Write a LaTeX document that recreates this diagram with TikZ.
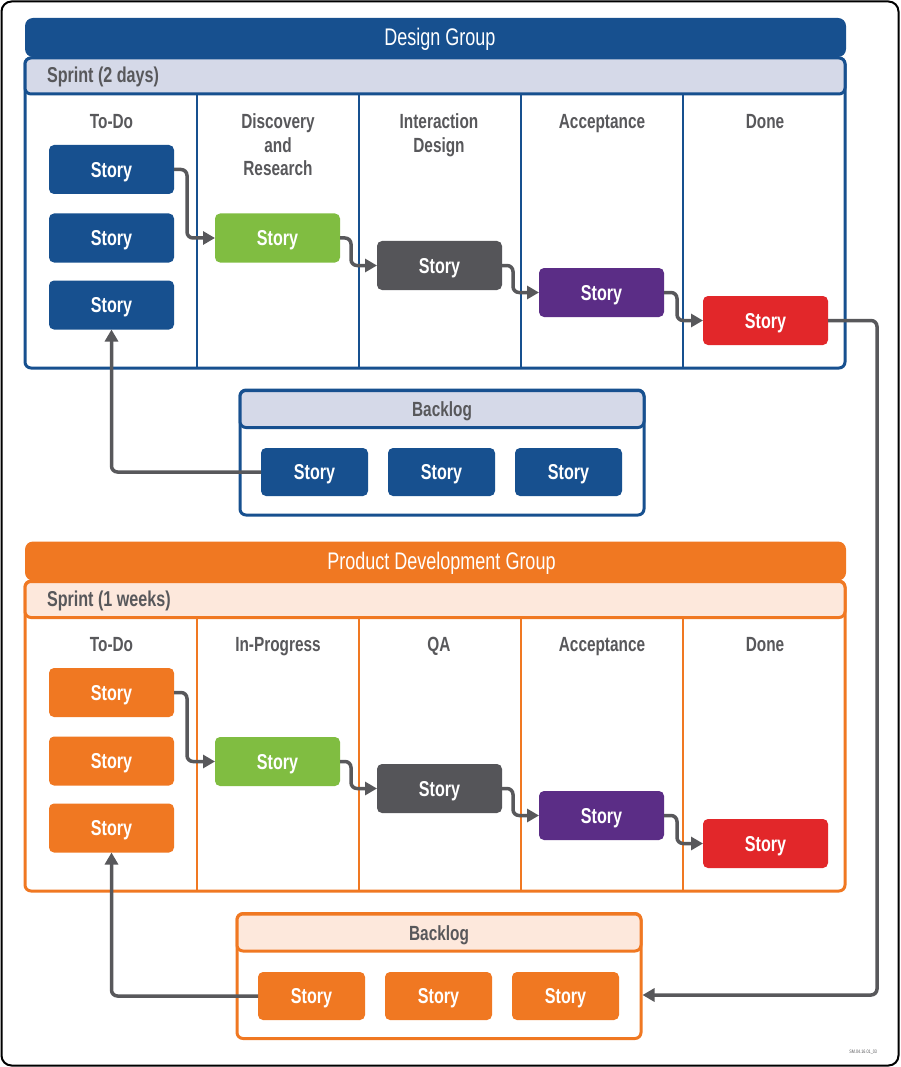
\documentclass[tikz,border=0pt]{standalone}
\usepackage{fontspec}
\setmainfont{Liberation Sans}[FakeStretch=0.75]
\usetikzlibrary{arrows.meta, positioning, calc}
\definecolor{designblue}{HTML}{17508F}
\definecolor{lavender}{HTML}{D5D9E8}
\definecolor{devorange}{HTML}{F07822}
\definecolor{peach}{HTML}{FDE8DC}
\definecolor{storygreen}{HTML}{80BD41}
\definecolor{storygray}{HTML}{555559}
\definecolor{storypurple}{HTML}{5B2D86}
\definecolor{storyred}{HTML}{E2272A}
\definecolor{textgray}{HTML}{58585B}

\begin{document}
\begin{tikzpicture}[
    x=1pt, y=-1pt,
    every node/.style={inner sep=0pt, outer sep=0pt},
    story/.style={rounded corners=5pt, minimum width=125pt, minimum height=49pt, text=white, font=\fontsize{21.5}{25}\selectfont\bfseries, text height=15.5pt, text depth=0pt},
    bstory/.style={story, minimum width=107pt, minimum height=48pt},
    colhead/.style={anchor=north, align=center, text=textgray, font=\fontsize{20.5}{23.5}\selectfont\bfseries},
    grouphead/.style={rounded corners=8pt, minimum width=821pt, minimum height=39pt, text=white, font=\fontsize{24}{28}\selectfont, text height=17pt, text depth=0pt},
    sprintbox/.style={draw, line width=3pt, rounded corners=6pt, minimum width=820pt, minimum height=310pt},
    sprintbar/.style={draw, line width=3pt, rounded corners=6pt, minimum width=820pt, minimum height=36pt},
    sprinttext/.style={anchor=base west, text=textgray, font=\fontsize{21.5}{25}\selectfont\bfseries},
    backlogbox/.style={draw, line width=3pt, rounded corners=6pt, minimum width=404pt, minimum height=125pt},
    backloghead/.style={draw, line width=3pt, rounded corners=6pt, minimum width=404pt, minimum height=37pt, text=textgray, font=\fontsize{20.5}{24}\selectfont\bfseries, text height=15pt, text depth=0pt},
    divider/.style={line width=2pt},
    flow/.style={-{Triangle[length=12pt, width=13pt]}, line width=3.5pt, textgray, rounded corners=6pt}
]
    \useasboundingbox (0,0) rectangle (900,1067);
    \node[draw, line width=2pt, rounded corners=10pt, minimum width=897pt, minimum height=1064pt] (frame) at (450,533.5) {};

    % Design group
    \node[grouphead, fill=designblue] (dhead) at (435.5,37.5) {\hspace{9pt}Design Group};
    \node[sprintbox, draw=designblue, fill=white] (dsprint) at (435,213) {};
    \node[sprintbar, draw=designblue, fill=lavender] (dbar) at (435,76) {};
    \node[sprinttext] (dsprinttext) at (47,83) {Sprint (2 days)};
    \foreach \x in {197,359,521,683}
        \draw[divider, designblue] (\x,94) -- (\x,367);

    \node[colhead] (dctodo) at (111.5,114) {To-Do};
    \node[colhead] (dcdisc) at (278,114) {Discovery\\and\\Research};
    \node[colhead] (dcinter) at (439,114) {Interaction\\Design};
    \node[colhead] (dcacc) at (602,114) {Acceptance};
    \node[colhead] (dcdone) at (765,114) {Done};

    \node[story, fill=designblue] (dt1) at (111.5,169.5) {Story};
    \node[story, fill=designblue] (dt2) at (111.5,238) {Story};
    \node[story, fill=designblue] (dt3) at (111.5,305) {Story};
    \node[story, fill=storygreen] (ddisc) at (277.5,238) {Story};
    \node[story, fill=storygray] (dinter) at (439.5,265.5) {Story};
    \node[story, fill=storypurple] (dacc) at (601.5,292.5) {Story};
    \node[story, fill=storyred] (ddone) at (765.5,320.5) {Story};

    \node[backlogbox, draw=designblue, fill=white] (dblbox) at (442,452.5) {};
    \node[backloghead, draw=designblue, fill=lavender] (dblhead) at (442,409) {Backlog};
    \node[bstory, fill=designblue] (db1) at (314.5,472) {Story};
    \node[bstory, fill=designblue] (db2) at (441.5,472) {Story};
    \node[bstory, fill=designblue] (db3) at (568.5,472) {Story};

    % Product development group
    \node[grouphead, fill=devorange] (phead) at (435.5,561) {\hspace{12pt}Product Development Group};
    \node[sprintbox, draw=devorange, fill=white] (psprint) at (435,736) {};
    \node[sprintbar, draw=devorange, fill=peach] (pbar) at (435,599.5) {};
    \node[sprinttext] (psprinttext) at (47,606) {Sprint (1 weeks)};
    \foreach \x in {197,359,521,683}
        \draw[divider, devorange] (\x,617) -- (\x,890);

    \node[colhead] (pctodo) at (111.5,637) {To-Do};
    \node[colhead] (pcprog) at (278,637) {In-Progress};
    \node[colhead] (pcqa) at (439,637) {QA};
    \node[colhead] (pcacc) at (602,637) {Acceptance};
    \node[colhead] (pcdone) at (765,637) {Done};

    \node[story, fill=devorange] (pt1) at (111.5,692.5) {Story};
    \node[story, fill=devorange] (pt2) at (111.5,761) {Story};
    \node[story, fill=devorange] (pt3) at (111.5,828) {Story};
    \node[story, fill=storygreen] (pprog) at (277.5,761.5) {Story};
    \node[story, fill=storygray] (pqa) at (439.5,788.5) {Story};
    \node[story, fill=storypurple] (pacc) at (601.5,815.5) {Story};
    \node[story, fill=storyred] (pdone) at (765.5,843.5) {Story};

    \node[backlogbox, draw=devorange, fill=white] (pblbox) at (439,976) {};
    \node[backloghead, draw=devorange, fill=peach] (pblhead) at (439,932.5) {Backlog};
    \node[bstory, fill=devorange] (pb1) at (311.5,996) {Story};
    \node[bstory, fill=devorange] (pb2) at (438.5,996) {Story};
    \node[bstory, fill=devorange] (pb3) at (565.5,996) {Story};

    % flow of stories
    \draw[flow] (dt1.east) -- ++(13,0) |- (ddisc.west);
    \draw[flow] (ddisc.east) -- ++(11,0) |- (dinter.west);
    \draw[flow] (dinter.east) -- ++(11,0) |- (dacc.west);
    \draw[flow] (dacc.east) -- ++(13,0) |- (ddone.west);
    \draw[flow] (db1.west) -| (dt3.south);

    \draw[flow] (pt1.east) -- ++(13,0) |- (pprog.west);
    \draw[flow] (pprog.east) -- ++(11,0) |- (pqa.west);
    \draw[flow] (pqa.east) -- ++(11,0) |- (pacc.west);
    \draw[flow] (pacc.east) -- ++(13,0) |- (pdone.west);
    \draw[flow] (pb1.west) -| (pt3.south);

    \coordinate (turn) at (877,995);
    \draw[flow] (ddone.east) -| (turn) -- ($(pblbox.east |- turn)+(1.5,0)$);

    \node[anchor=base east, text=textgray, font=\fontsize{5}{6}\selectfont] (ref) at (877,1053) {SM.04.16.01\_03};
\end{tikzpicture}
\end{document}
